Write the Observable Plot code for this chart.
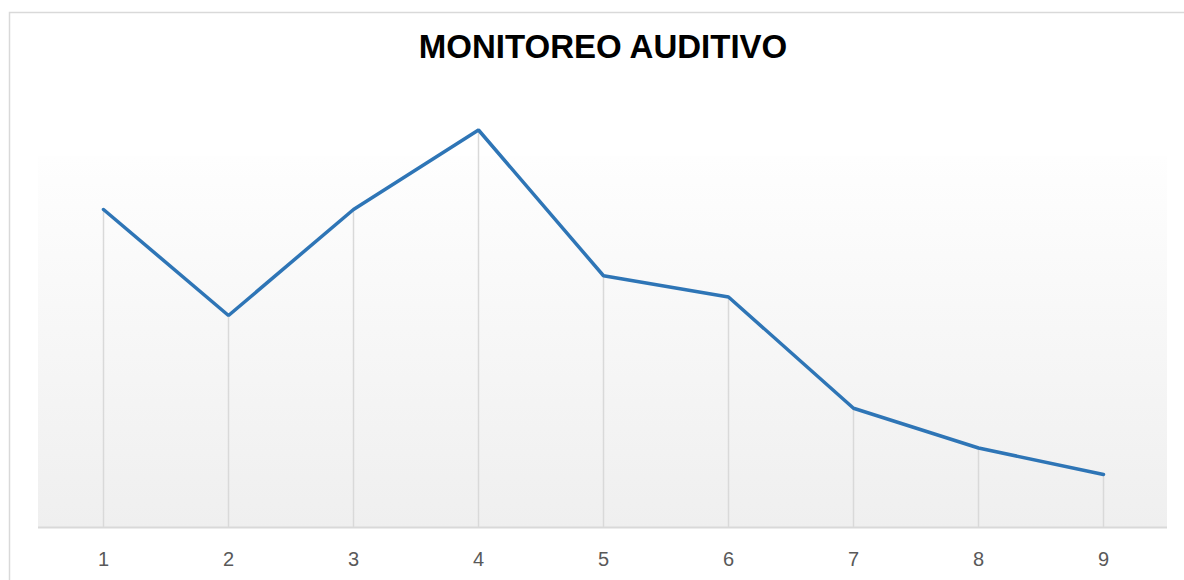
<!DOCTYPE html>
<html>
<head>
<meta charset="utf-8">
<script src="https://cdn.jsdelivr.net/npm/d3@7"></script>
<script src="https://cdn.jsdelivr.net/npm/@observablehq/plot@0.6"></script>
<style>
  html, body { margin: 0; padding: 0; background: #ffffff; }
  #chart { width: 1184px; height: 580px; overflow: hidden; }
</style>
</head>
<body>
<div id="chart"></div>
<script>
const title = "MONITOREO AUDITIVO";
const categories = ["1", "2", "3", "4", "5", "6", "7", "8", "9"];
const values = [24, 16, 24, 30, 19, 17.4, 9, 6, 4];
const yDomain = [0, 28];

const data = categories.map((c, i) => ({c, v: values[i]}));

// decorative chart-area border (extends off right/bottom like the reference)
function borderMark(index, scales, vals, dims) {
  const g = d3.create("svg:g");
  g.append("rect")
    .attr("x", 9.5).attr("y", 12.5)
    .attr("width", dims.width + 20).attr("height", dims.height + 20)
    .attr("fill", "none").attr("stroke", "#d9d9d9").attr("stroke-width", 1.5);
  return g.node();
}

// gradient plot-area background
function backgroundMark(index, scales, vals, dims) {
  const g = d3.create("svg:g");
  const grad = g.append("defs").append("linearGradient")
    .attr("id", "plotBg").attr("x1", 0).attr("y1", 0).attr("x2", 0).attr("y2", 1);
  grad.append("stop").attr("offset", "0%").attr("stop-color", "#fefefe");
  grad.append("stop").attr("offset", "100%").attr("stop-color", "#efefef");
  g.append("rect")
    .attr("x", dims.marginLeft).attr("y", dims.marginTop)
    .attr("width", dims.width - dims.marginLeft - dims.marginRight)
    .attr("height", dims.height - dims.marginTop - dims.marginBottom)
    .attr("fill", "url(#plotBg)");
  return g.node();
}

const chart = Plot.plot({
  width: 1184,
  height: 580,
  marginLeft: 38,
  marginRight: 17,
  marginTop: 156,
  marginBottom: 53,
  style: {fontFamily: "'Liberation Sans', Arial, sans-serif", fontSize: "20px", background: "#ffffff", color: "#595959", overflow: "visible"},
  x: {type: "point", domain: categories, padding: 0.5, label: null},
  y: {domain: yDomain, axis: null},
  marks: [
    borderMark,
    backgroundMark,
    Plot.ruleX(data, {x: "c", y1: 0, y2: "v", stroke: "#d9d9d9", strokeWidth: 1.5}),
    Plot.ruleY([0], {stroke: "#d9d9d9", strokeWidth: 2}),
    Plot.lineY(data, {x: "c", y: "v", stroke: "#2e75b6", strokeWidth: 3.5, strokeLinejoin: "miter"}),
    Plot.axisX({tickSize: 0, tickPadding: 24, fontSize: 20, fill: "#595959", label: null}),
    Plot.text([title], {
      frameAnchor: "top", dy: -99, lineAnchor: "bottom",
      fontSize: 33, fontWeight: "bold", fill: "#000000",
      fontFamily: "'Liberation Sans', Arial, sans-serif"
    })
  ]
});

// make sure tick labels use the intended size
d3.select(chart).selectAll("g[aria-label='x-axis tick label']").attr("font-size", 20);

document.getElementById("chart").appendChild(chart);
</script>
</body>
</html>
